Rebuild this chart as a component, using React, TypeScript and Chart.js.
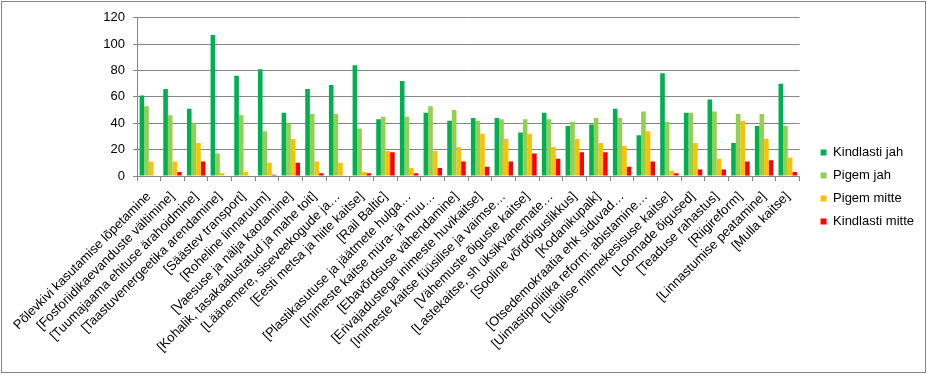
import React, { useEffect, useRef } from "react";
import { Chart, registerables } from "chart.js";

Chart.register(...registerables);

const categories: string[] = [
  "Põlevkivi kasutamise lõpetamine",
  "[Fosforiidikaevanduste vältimine]",
  "[Tuumajaama ehituse ärahoidmine]",
  "[Taastuvenergeetika arendamine]",
  "[Säästev transport]",
  "[Roheline linnaruum]",
  "[Vaesuse ja nälja kaotamine]",
  "[Kohalik, tasakaalustatud ja mahe toit]",
  "[Läänemere, siseveekogude ja…",
  "[Eesti metsa ja hiite kaitse]",
  "[Rail Baltic]",
  "[Plastikasutuse ja jäätmete hulga…",
  "[Inimeste kaitse müra- ja muu…",
  "[Ebavõrdsuse vähendamine]",
  "[Erivajadustega inimeste huvikaitse]",
  "[Inimeste kaitse füüsilise ja vaimse…",
  "[Vähemuste õiguste kaitse]",
  "[Lastekaitse, sh üksikvanemate…",
  "[Sooline võrdõiguslikkus]",
  "[Kodanikupalk]",
  "[Otsedemokraatia ehk siduvad…",
  "[Uimastipoliitika reform: abistamine…",
  "[Liigilise mitmekesisuse kaitse]",
  "[Loomade õigused]",
  "[Teaduse rahastus]",
  "[Riigireform]",
  "[Linnastumise peatamine]",
  "[Mulla kaitse]",
];

const kindlastiJah: number[] = [61, 66, 51, 107, 76, 81, 48, 66, 69, 84, 43, 72, 48, 42, 44, 44, 33, 48, 38, 39, 51, 31, 78, 48, 58, 25, 38, 70];
const pigemJah: number[] = [53, 46, 40, 17, 46, 34, 40, 47, 47, 36, 45, 45, 53, 50, 42, 43, 43, 43, 41, 44, 44, 49, 41, 48, 49, 47, 47, 38];
const pigemMitte: number[] = [11, 11, 25, 2, 3, 10, 28, 11, 10, 3, 19, 6, 19, 22, 32, 28, 32, 22, 28, 25, 23, 34, 4, 25, 13, 42, 28, 14];
const kindlastiMitte: number[] = [0, 3, 11, 0, 0, 1, 10, 2, 0, 2, 18, 2, 6, 11, 7, 11, 17, 13, 18, 18, 7, 11, 2, 5, 5, 11, 12, 3];

const seriesNames: string[] = ["Kindlasti jah", "Pigem jah", "Pigem mitte", "Kindlasti mitte"];
const seriesColors: string[] = ["#00B050", "#92D050", "#FFC000", "#FF0000"];

const yTicks: number[] = [0, 20, 40, 60, 80, 100, 120];

const GRID = "#868686";
const FONT = "'Liberation Sans', Arial, sans-serif";

export default function App() {
  const canvasRef = useRef<HTMLCanvasElement | null>(null);

  useEffect(() => {
    const canvas = canvasRef.current;
    if (!canvas) return;
    const values = [kindlastiJah, pigemJah, pigemMitte, kindlastiMitte];
    const legendGap = 11;
    const chart = new Chart(canvas, {
      type: "bar",
      data: {
        labels: categories,
        datasets: seriesNames.map((name, i) => ({
          label: name,
          data: values[i],
          backgroundColor: seriesColors[i],
          borderWidth: 0,
          categoryPercentage: 0.78,
          barPercentage: 1.0,
        })),
      },
      options: {
        animation: false,
        responsive: false,
        maintainAspectRatio: false,
        layout: { padding: { top: 13, left: 0, right: 0, bottom: 12 } },
        plugins: {
          legend: {
            position: "right",
            align: "center",
            labels: {
              boxWidth: 6,
              boxHeight: 6,
              padding: 10,
              color: "#000",
              font: { family: FONT, size: 13 },
            },
          },
          tooltip: { enabled: false },
        },
        scales: {
          x: {
            grid: {
              display: true,
              drawOnChartArea: false,
              drawTicks: true,
              tickLength: 5,
              color: GRID,
              offset: true,
            },
            border: { display: true, color: GRID, width: 1 },
            ticks: {
              autoSkip: false,
              minRotation: 45,
              maxRotation: 45,
              color: "#000",
              font: { family: FONT, size: 13 },
              padding: 8,
            },
            afterFit: (scale: any) => {
              scale.height = 183;
            },
          },
          y: {
            min: 0,
            max: 120,
            afterBuildTicks: (scale: any) => {
              scale.ticks = yTicks.map((v) => ({ value: v }));
            },
            grid: {
              color: GRID,
              lineWidth: 1,
              tickLength: 4,
              drawTicks: true,
            },
            border: { display: true, color: GRID, width: 1 },
            ticks: {
              color: "#000",
              font: { family: FONT, size: 13 },
              padding: 8,
            },
            afterFit: (scale: any) => {
              scale.width = 135;
            },
          },
        },
      },
      plugins: [
        {
          id: "legendGap",
          beforeInit(c: any) {
            const lg = c.legend;
            if (lg && !lg.__patched) {
              const orig = lg.fit.bind(lg);
              lg.fit = function () {
                orig();
                this.width += legendGap;
              };
              lg.__patched = true;
            }
          },
          afterLayout(c: any) {
            if (c.legend) c.legend.left += legendGap;
          },
        },
      ],
    });
    return () => chart.destroy();
  }, []);

  return (
    <div style={{ position: "absolute", left: 0, top: 0, width: 927, height: 375, background: "#fff" }}>
      <div
        style={{
          position: "absolute",
          left: 1,
          top: 1,
          width: 925,
          height: 372,
          boxSizing: "border-box",
          border: `1px solid ${GRID}`,
        }}
      />
      <canvas
        ref={canvasRef}
        width={922}
        height={369}
        style={{ position: "absolute", left: 2, top: 2, width: 922, height: 369 }}
      />
    </div>
  );
}
